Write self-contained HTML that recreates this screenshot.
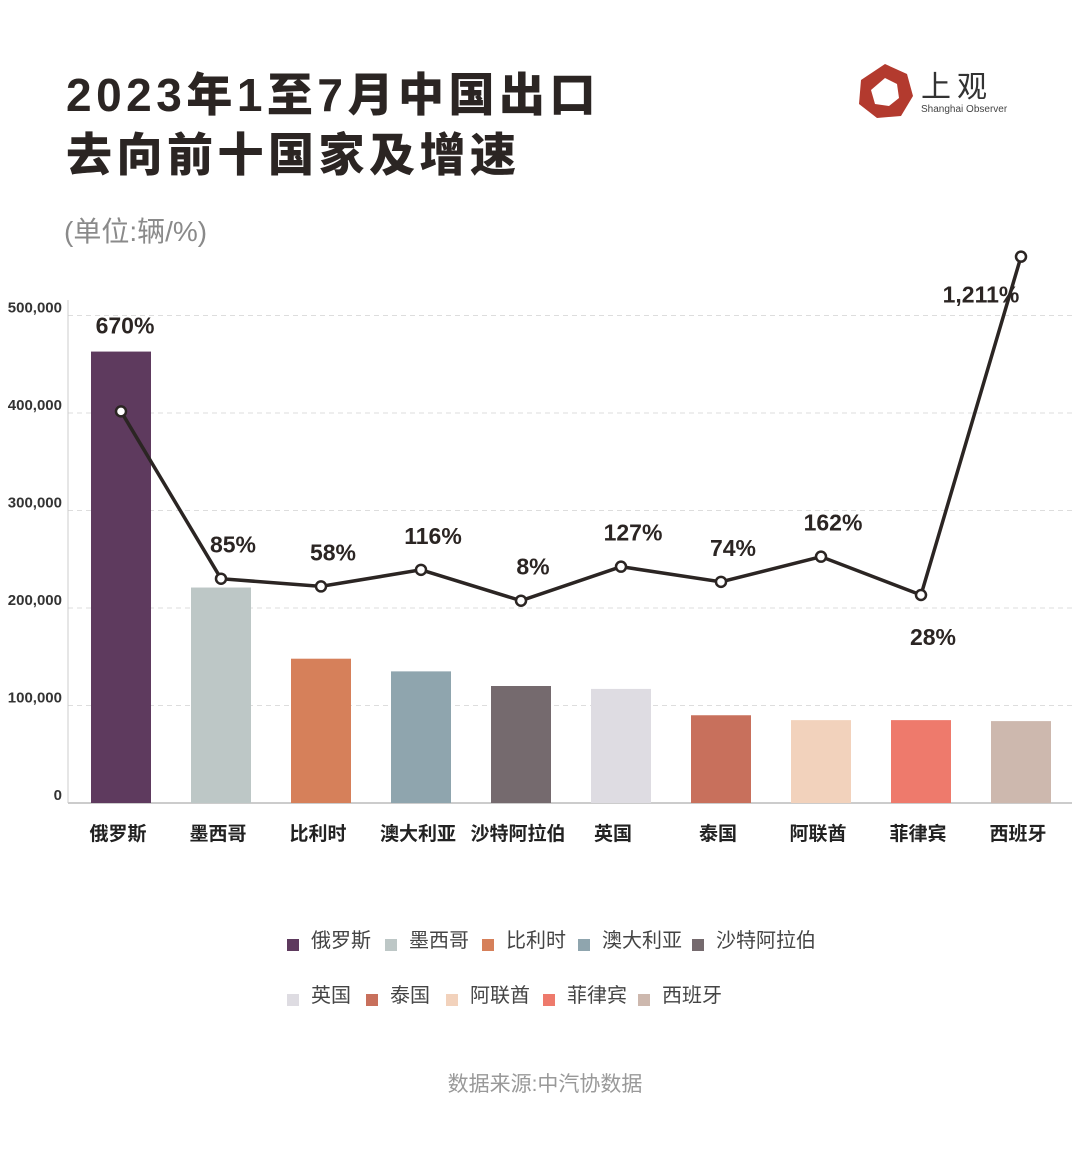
<!DOCTYPE html>
<html><head><meta charset="utf-8">
<style>
body{margin:0;width:1080px;height:1166px;background:#fff;overflow:hidden;font-family:"Liberation Sans","Noto Sans CJK SC",sans-serif;}
.t{position:absolute;left:66px;font-weight:900;font-size:46px;color:#2b2523;letter-spacing:4.5px;line-height:1;}
</style></head><body>
<div class="t" style="top:72px">2023年1至7月中国出口</div>
<div class="t" style="top:132px">去向前十国家及增速</div>
<div style="position:absolute;left:64px;top:210px;font-size:28px;color:#8a8a8a">(单位:辆/%)</div>
<div style="position:absolute;left:855px;top:62px;width:170px;height:60px">
<svg width="60" height="60" viewBox="0 0 60 60"><polygon points="30,2 52,12 58,34 46,54 22,56 4,42 6,18" fill="#b33a2e"/><polygon points="30,16 42,22 44,36 34,44 20,42 16,28" fill="#fff"/></svg>
<div style="position:absolute;left:66px;top:0;font-size:30px;color:#333;letter-spacing:6px">上观</div>
<div style="position:absolute;left:66px;top:42px;font-size:10px;color:#444">Shanghai Observer</div>
</div>
<svg id="c" width="1080" height="1166" style="position:absolute;left:0;top:0"></svg>
<div style="position:absolute;left:0;width:1090px;text-align:center;top:1068px;font-size:21px;color:#999">数据来源:中汽协数据</div>
<script>
const categories=["俄罗斯","墨西哥","比利时","澳大利亚","沙特阿拉伯","英国","泰国","阿联酋","菲律宾","西班牙"];
const volumes=[463000,221000,148000,135000,120000,117000,90000,85000,85000,84000];
const growth=[670,85,58,116,8,127,74,162,28,1211];
const growthLabels=["670%","85%","58%","116%","8%","127%","74%","162%","28%","1,211%"];
const yTicks=[0,100000,200000,300000,400000,500000];
const yTickLabels=["0","100,000","200,000","300,000","400,000","500,000"];
const colors=["#5e3a5e","#bdc7c6","#d6805a","#8fa5ae","#756a6e","#dedce2","#c8705c","#f2d2bc","#ee7a6c","#cdb8ae"];
const NS="http://www.w3.org/2000/svg",svg=document.getElementById('c');
function mk(t,a,txt){const e=document.createElementNS(NS,t);for(const k in a)e.setAttribute(k,a[k]);if(txt!=null)e.textContent=txt;svg.appendChild(e);return e;}
const y=v=>803-v*0.000975, x=i=>121+i*100, yg=v=>603-v*0.286;
yTicks.forEach((t,i)=>{
 if(i>0){const g=mk('line',{x1:68,x2:1072,y1:y(t),y2:y(t),stroke:'#ddd','stroke-dasharray':'5,4'});}
 const l=mk('text',{x:62,y:y(t)-3,'text-anchor':'end','font-size':15,fill:'#333','font-weight':'bold','font-family':'Liberation Sans Narrow, Liberation Sans, sans-serif'},yTickLabels[i]);
 
});
const ax=mk('line',{x1:68,x2:1072,y1:803,y2:803,stroke:'#bbb','stroke-width':1.5});
const ya=mk('line',{x1:68,x2:68,y1:300,y2:803,stroke:'#ccc'});
categories.forEach((c,i)=>{
 const b=mk('rect',{x:x(i)-30,y:y(volumes[i]),width:60,height:803-y(volumes[i]),fill:colors[i]});
 
 const l=mk('text',{x:i==5?613:x(i)-3,y:840,'text-anchor':'middle','font-size':19,'font-weight':'bold',fill:'#222'},c);
 
});
const pts=growth.map((g,i)=>x(i)+','+yg(g)).join(' ');
const pl=mk('polyline',{points:pts,fill:'none',stroke:'#2b2523','stroke-width':3.5});
growth.forEach((g,i)=>{
 const p=mk('circle',{cx:x(i),cy:yg(g),r:5,fill:'#fff',stroke:'#2b2523','stroke-width':2.5});
 
 let lx=x(i)+12,ly=yg(g)-26;
 if(i==0){lx=x(i)+4;ly=yg(g)-78;}
 if(i==8){ly=yg(g)+50;}
 if(i==9){lx=x(i)-40;ly=yg(g)+46;}
 const t=mk('text',{x:lx,y:ly,'text-anchor':'middle','font-size':23,'font-weight':'bold',fill:'#2b2523','font-family':'Liberation Sans Narrow, Liberation Sans, sans-serif'},growthLabels[i]);
 
});
const legX=[287,385,482,578,692,287,366,446,543,638], legY=[940,940,940,940,940,995,995,995,995,995];
categories.forEach((c,i)=>{
 const r=mk('rect',{x:legX[i],y:legY[i]-1,width:12,height:12,fill:colors[i]});
 const t=mk('text',{x:legX[i]+24,y:legY[i]+7,'font-size':20,fill:'#444'},c);
});
</script>
</body></html>
